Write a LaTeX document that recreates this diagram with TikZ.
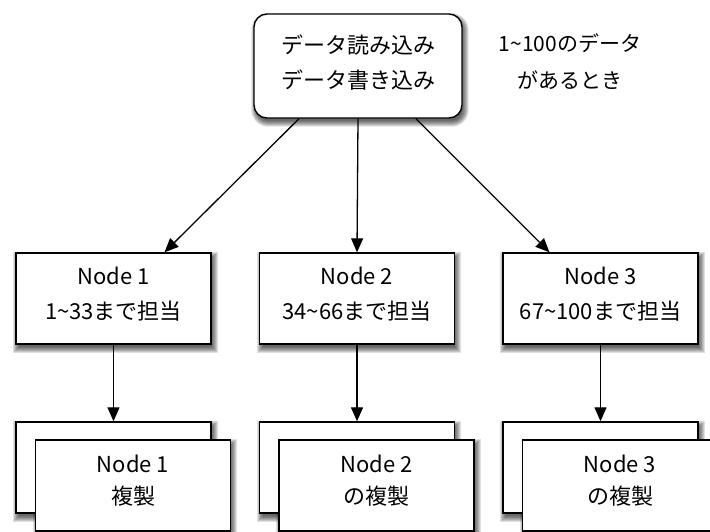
\documentclass[tikz,border=0pt]{standalone}
\usepackage{fontspec}
\setmainfont{Noto Sans CJK JP}
\usetikzlibrary{arrows.meta}
\pgfdeclarelayer{bg}
\pgfsetlayers{bg,main}
\begin{document}
\begin{tikzpicture}[x=1pt,y=-1pt,
  box/.style={draw,line width=1.4pt,fill=white,minimum width=195pt,minimum height=91pt,inner sep=0pt},
  topbox/.style={box,rounded corners=13pt,minimum width=208pt,minimum height=104pt},
  lbl/.style={align=center,font=\fontsize{22}{35}\selectfont,inner sep=0pt},
  lblb/.style={align=center,font=\fontsize{22}{32}\selectfont,inner sep=0pt},
  shadowlayer/.style={fill=black,opacity=.12},
  arr/.style={line width=1.3pt,-{Triangle[length=14pt,width=12pt]}}]
\useasboundingbox (0,0) rectangle (710,531);
\clip (0,0) rectangle (710,531);
\node[topbox] (top) at (358,66) {};
\node[lbl] (topt) at ([yshift=3pt]top.center) {データ読み込み\\データ書き込み};
\node[lbl,font=\fontsize{21}{37}\selectfont] (note) at (570,61.5) {1\textasciitilde 100のデータ\\があるとき};
\node[box] (n1) at (113.5,298.5) {};
\node[box] (n2) at (357,298.5) {};
\node[box] (n3) at (600.5,298.5) {};
\node[lbl] (n1t) at ([yshift=4pt]n1.center) {Node 1\\1\textasciitilde 33まで担当};
\node[lbl] (n2t) at ([yshift=4pt]n2.center) {Node 2\\34\textasciitilde 66まで担当};
\node[lbl] (n3t) at ([yshift=4pt]n3.center) {Node 3\\67\textasciitilde 100まで担当};
\node[box] (b1) at (113.5,467.5) {};
\node[box] (f1) at (133,485.5) {};
\node[lblb] (f1t) at ([yshift=4.5pt]f1.center) {Node 1\\複製};
\node[box] (b2) at (357,467.5) {};
\node[box] (f2) at (376.5,485.5) {};
\node[lblb] (f2t) at ([yshift=4.5pt]f2.center) {Node 2\\の複製};
\node[box] (b3) at (600.5,467.5) {};
\node[box] (f3) at (620,485.5) {};
\node[lblb] (f3t) at ([yshift=4.5pt]f3.center) {Node 3\\の複製};
\begin{pgfonlayer}{bg}
  \foreach \r in {-2,-1,0,1,2,3,4}{
    \fill[shadowlayer,rounded corners={13pt+\r pt}]
      ([shift={(2-\r,4-\r)}]top.north west) rectangle ([shift={(2+\r,4+\r)}]top.south east);
    \foreach \n in {n1,n2,n3,b1,b2,b3,f1,f2,f3}{
      \fill[shadowlayer]
        ([shift={(2-\r,4-\r)}]\n.north west) rectangle ([shift={(2+\r,4+\r)}]\n.south east);
    }
  }
\end{pgfonlayer}
\draw[arr] ([xshift=-59pt]top.south) -- ([xshift=51pt]n1.north);
\draw[arr] (top.south) -- (n2.north);
\draw[arr] ([xshift=58pt]top.south) -- ([xshift=-51pt]n3.north);
\draw[arr] (n1.south) -- (b1.north);
\draw[arr] (n2.south) -- (b2.north);
\draw[arr] (n3.south) -- (b3.north);
\end{tikzpicture}
\end{document}
